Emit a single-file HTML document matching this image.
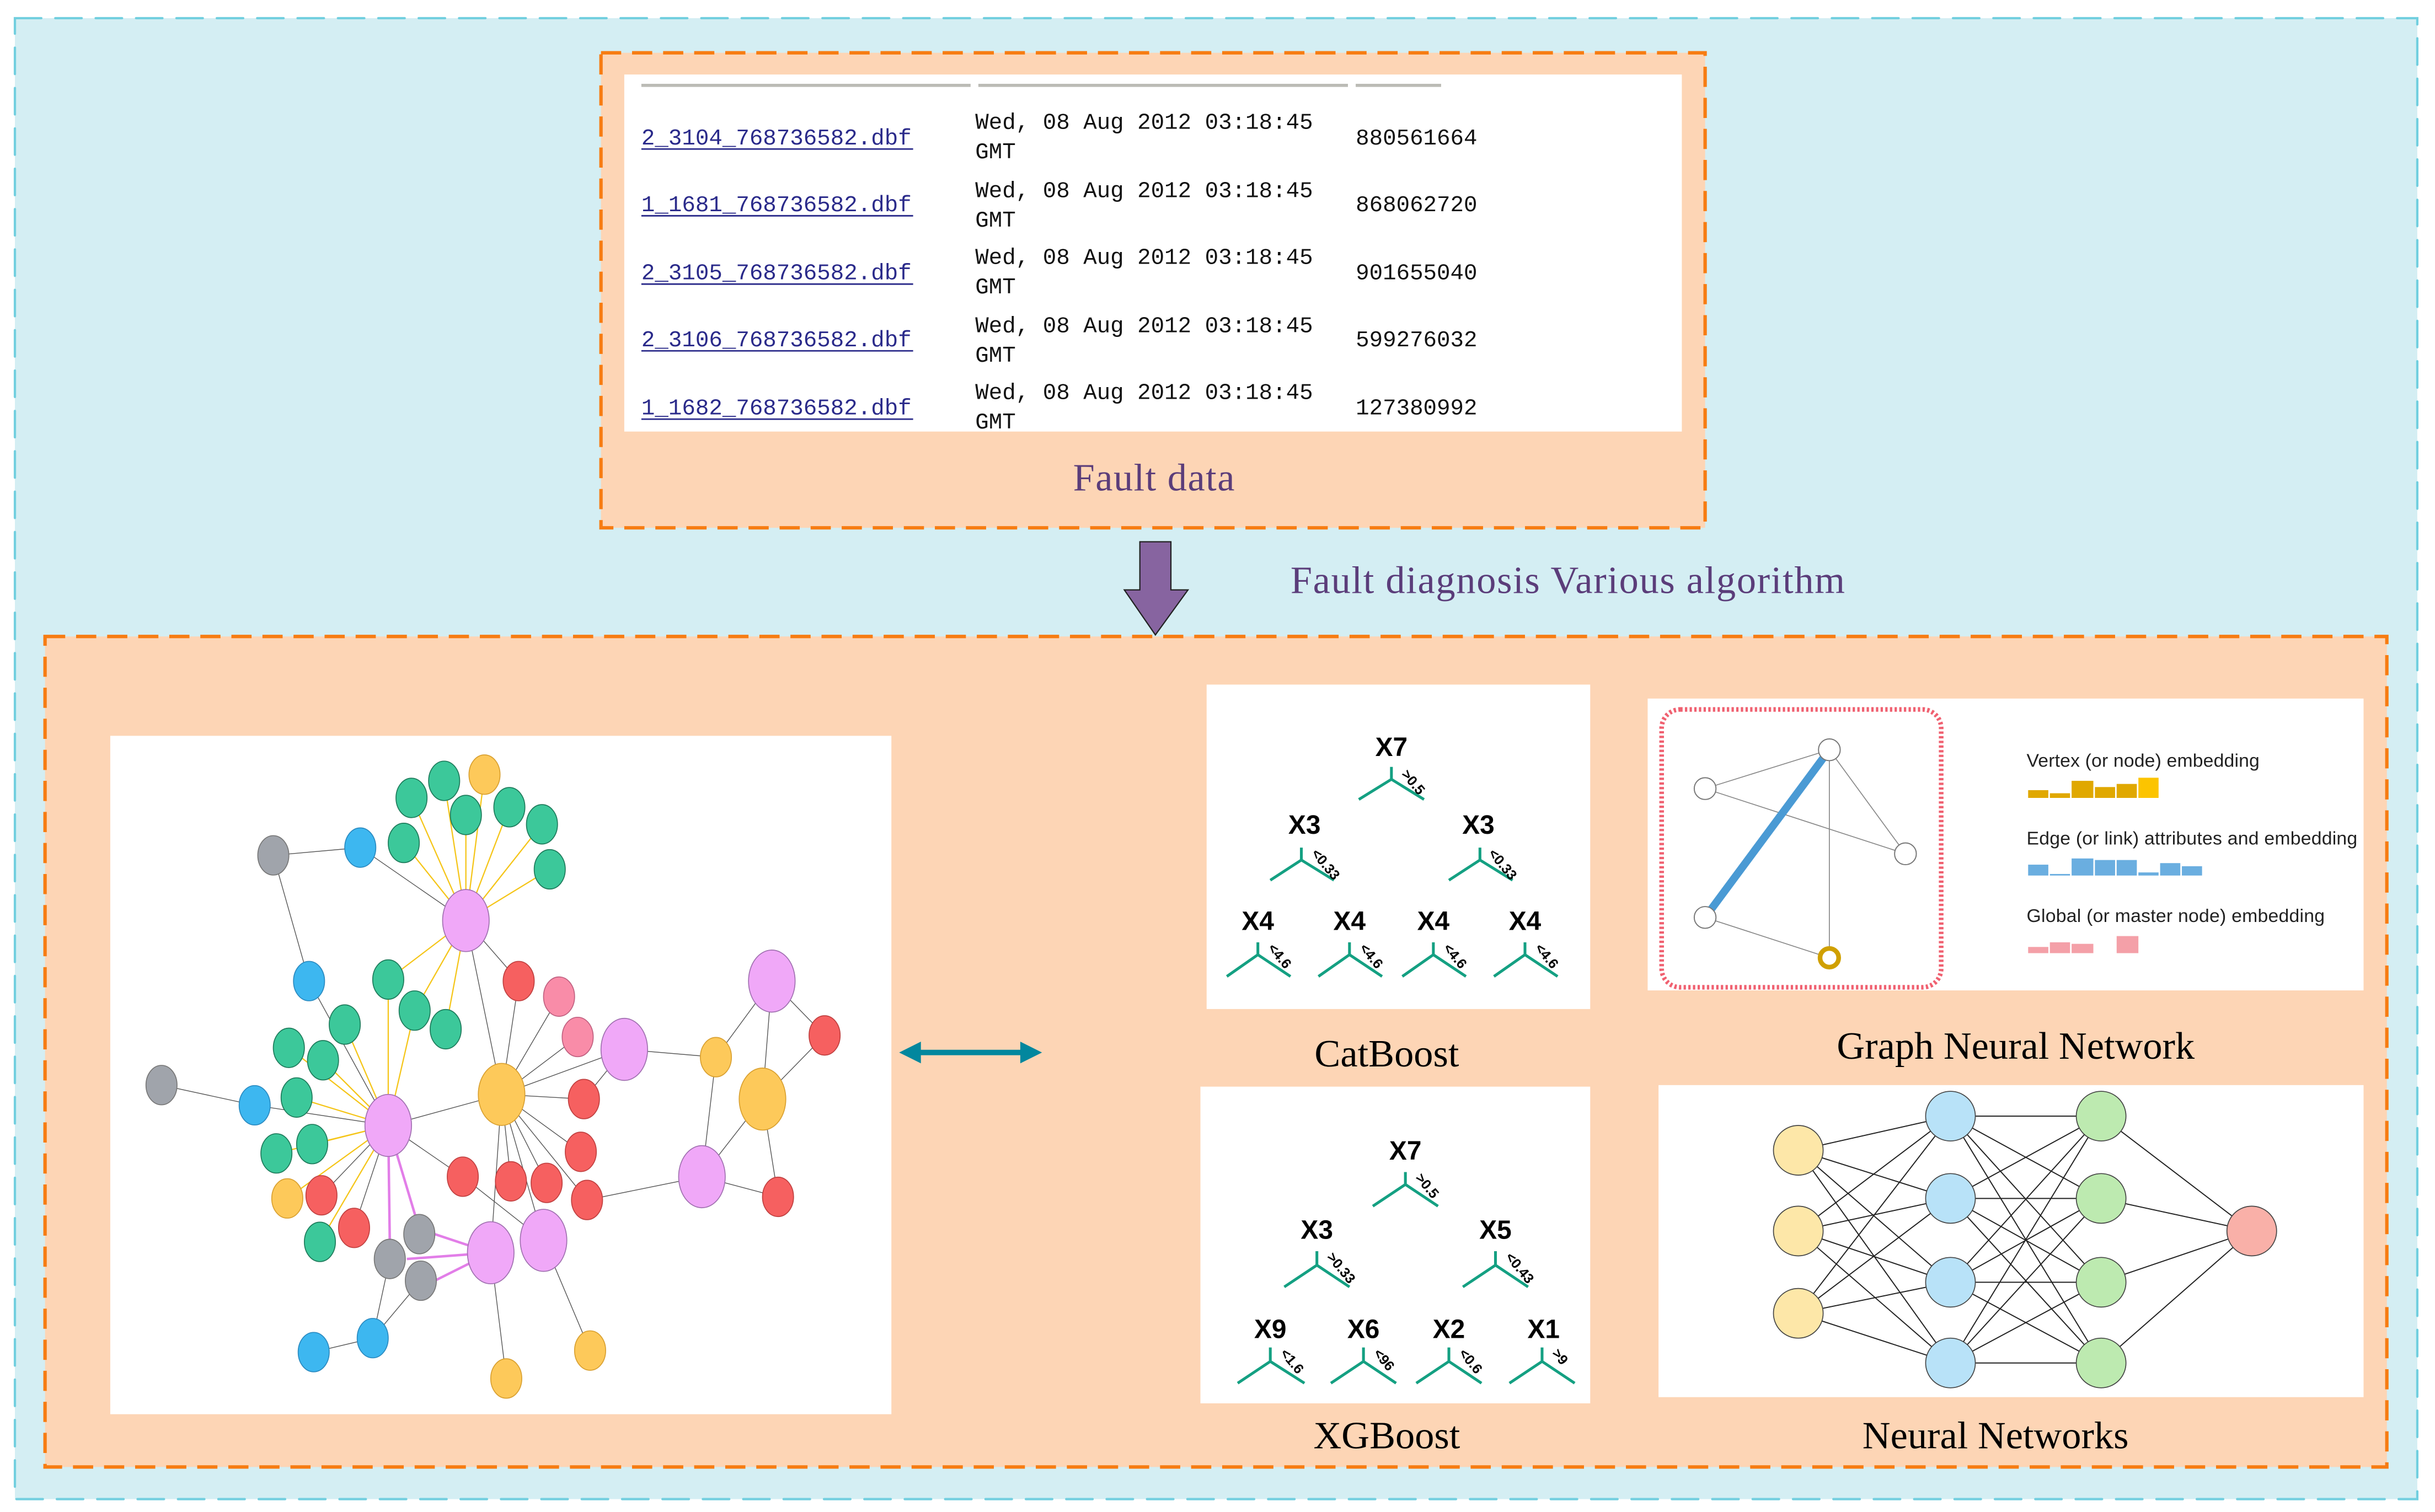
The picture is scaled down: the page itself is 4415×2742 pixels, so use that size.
<!DOCTYPE html>
<html><head><meta charset="utf-8"><style>
html,body{margin:0;padding:0;background:#fff;}
svg{display:block;}
</style></head><body>
<svg width="4415" height="2742" viewBox="0 0 1568 974" preserveAspectRatio="none" xmlns="http://www.w3.org/2000/svg">
<rect x="0" y="0" width="1568" height="974" fill="#fff"/>
<rect x="9.6" y="11.7" width="1547" height="954" fill="#d4eef3" stroke="#72cfdf" stroke-width="1.5" stroke-dasharray="17 9" stroke-linecap="round"/>
<!-- top box -->
<rect x="387" y="34" width="711" height="306" fill="#fdd5b5" stroke="#f77c12" stroke-width="2.2" stroke-dasharray="13 7"/>
<rect x="402" y="48" width="681" height="230" fill="#fff"/>
<g stroke="#bbbbb5" stroke-width="2"><line x1="413" y1="55" x2="625" y2="55"/><line x1="630" y1="55" x2="868" y2="55"/><line x1="873" y1="55" x2="928" y2="55"/></g>
<g font-family="Liberation Mono, monospace" font-size="14.5" fill="#111">
<g fill="#2a2a8a">
<text x="413" y="93">2_3104_768736582.dbf</text>
<text x="413" y="136">1_1681_768736582.dbf</text>
<text x="413" y="180">2_3105_768736582.dbf</text>
<text x="413" y="223">2_3106_768736582.dbf</text>
<text x="413" y="267">1_1682_768736582.dbf</text>
</g>
<g stroke="#2a2a8a" stroke-width="1"><line x1="413" y1="96" x2="588" y2="96"/><line x1="413" y1="139" x2="588" y2="139"/><line x1="413" y1="183" x2="588" y2="183"/><line x1="413" y1="226" x2="588" y2="226"/><line x1="413" y1="270" x2="588" y2="270"/></g>
<text x="628" y="83">Wed, 08 Aug 2012 03:18:45</text><text x="628" y="102">GMT</text>
<text x="628" y="127">Wed, 08 Aug 2012 03:18:45</text><text x="628" y="146">GMT</text>
<text x="628" y="170">Wed, 08 Aug 2012 03:18:45</text><text x="628" y="189">GMT</text>
<text x="628" y="214">Wed, 08 Aug 2012 03:18:45</text><text x="628" y="233">GMT</text>
<text x="628" y="257">Wed, 08 Aug 2012 03:18:45</text><text x="628" y="276">GMT</text>
<text x="873" y="93">880561664</text>
<text x="873" y="136">868062720</text>
<text x="873" y="180">901655040</text>
<text x="873" y="223">599276032</text>
<text x="873" y="267">127380992</text>
</g>
<text x="691" y="316" font-family="Liberation Serif, serif" font-size="25" fill="#5b3d7a" textLength="104">Fault data</text>
<!-- arrow -->
<polygon points="734,349 754,349 754,380 765,380 744,409 724,380 734,380" fill="#8764a0" stroke="#222" stroke-width="0.8"/>
<text x="831" y="382" font-family="Liberation Serif, serif" font-size="25" fill="#5b3d7a" textLength="357">Fault diagnosis Various algorithm</text>
<!-- bottom box -->
<rect x="29" y="410" width="1508" height="535" fill="#fdd5b5" stroke="#f77c12" stroke-width="2.2" stroke-dasharray="13 7"/>
<!-- graph panel -->
<rect x="71" y="474" width="503" height="437" fill="#fff"/>
<g stroke="#555" stroke-width="0.5" fill="none">
<line x1="300" y1="593" x2="232" y2="546"/><line x1="300" y1="593" x2="334" y2="632"/><line x1="300" y1="593" x2="323" y2="705"/>
<line x1="176" y1="551" x2="232" y2="546"/><line x1="176" y1="551" x2="199" y2="632"/><line x1="199" y1="632" x2="250" y2="725"/>
<line x1="104" y1="699" x2="164" y2="712"/><line x1="164" y1="712" x2="250" y2="725"/>
<line x1="250" y1="725" x2="323" y2="705"/><line x1="250" y1="725" x2="298" y2="758"/><line x1="250" y1="725" x2="207" y2="770"/><line x1="250" y1="725" x2="228" y2="791"/>
<line x1="323" y1="705" x2="360" y2="642"/><line x1="323" y1="705" x2="372" y2="668"/><line x1="323" y1="705" x2="402" y2="676"/><line x1="323" y1="705" x2="376" y2="708"/><line x1="323" y1="705" x2="374" y2="742"/><line x1="323" y1="705" x2="329" y2="761"/><line x1="323" y1="705" x2="352" y2="762"/><line x1="323" y1="705" x2="378" y2="773"/><line x1="323" y1="705" x2="316" y2="807"/><line x1="323" y1="705" x2="350" y2="799"/><line x1="323" y1="705" x2="334" y2="632"/>
<line x1="298" y1="758" x2="350" y2="799"/><line x1="378" y1="773" x2="452" y2="758"/><line x1="402" y1="676" x2="461" y2="681"/><line x1="402" y1="676" x2="376" y2="708"/>
<line x1="461" y1="681" x2="497" y2="632"/><line x1="461" y1="681" x2="452" y2="758"/><line x1="497" y1="632" x2="491" y2="708"/><line x1="497" y1="632" x2="531" y2="667"/><line x1="531" y1="667" x2="491" y2="708"/><line x1="491" y1="708" x2="452" y2="758"/><line x1="491" y1="708" x2="501" y2="771"/><line x1="452" y1="758" x2="501" y2="771"/>
<line x1="240" y1="862" x2="202" y2="871"/><line x1="240" y1="862" x2="251" y2="811"/><line x1="240" y1="862" x2="271" y2="825"/>
<line x1="316" y1="807" x2="326" y2="888"/><line x1="350" y1="799" x2="380" y2="870"/>
</g>
<g stroke="#f5c518" stroke-width="0.8">
<line x1="300" y1="593" x2="265" y2="514"/><line x1="300" y1="593" x2="286" y2="503"/><line x1="300" y1="593" x2="300" y2="525"/><line x1="300" y1="593" x2="328" y2="520"/><line x1="300" y1="593" x2="349" y2="531"/><line x1="300" y1="593" x2="354" y2="560"/><line x1="300" y1="593" x2="260" y2="543"/><line x1="300" y1="593" x2="312" y2="499"/>
<line x1="300" y1="593" x2="250" y2="631"/><line x1="300" y1="593" x2="267" y2="651"/><line x1="300" y1="593" x2="287" y2="663"/>
<line x1="250" y1="725" x2="222" y2="660"/><line x1="250" y1="725" x2="186" y2="675"/><line x1="250" y1="725" x2="208" y2="683"/><line x1="250" y1="725" x2="191" y2="707"/><line x1="250" y1="725" x2="201" y2="737"/><line x1="250" y1="725" x2="178" y2="743"/><line x1="250" y1="725" x2="206" y2="800"/><line x1="250" y1="725" x2="250" y2="631"/><line x1="250" y1="725" x2="267" y2="651"/><line x1="250" y1="725" x2="185" y2="772"/>
</g>
<g stroke="#e27ee8" stroke-width="1.6"><line x1="250" y1="725" x2="251" y2="800"/><line x1="250" y1="725" x2="268" y2="785"/><line x1="316" y1="807" x2="262" y2="811"/><line x1="316" y1="807" x2="280" y2="795"/><line x1="316" y1="807" x2="280" y2="825"/></g>
<g stroke-width="0.6">
<g fill="#3cc89a" stroke="#1d7a5a">
<ellipse cx="265" cy="514" rx="10" ry="12.7"/><ellipse cx="286" cy="503" rx="10" ry="12.7"/><ellipse cx="300" cy="525" rx="10" ry="12.7"/><ellipse cx="328" cy="520" rx="10" ry="12.7"/><ellipse cx="349" cy="531" rx="10" ry="12.7"/><ellipse cx="354" cy="560" rx="10" ry="12.7"/><ellipse cx="260" cy="543" rx="10" ry="12.7"/><ellipse cx="250" cy="631" rx="10" ry="12.7"/><ellipse cx="267" cy="651" rx="10" ry="12.7"/><ellipse cx="287" cy="663" rx="10" ry="12.7"/><ellipse cx="222" cy="660" rx="10" ry="12.7"/><ellipse cx="186" cy="675" rx="10" ry="12.7"/><ellipse cx="208" cy="683" rx="10" ry="12.7"/><ellipse cx="191" cy="707" rx="10" ry="12.7"/><ellipse cx="201" cy="737" rx="10" ry="12.7"/><ellipse cx="178" cy="743" rx="10" ry="12.7"/><ellipse cx="206" cy="800" rx="10" ry="12.7"/>
</g>
<g fill="#fdc95a" stroke="#d9a030">
<ellipse cx="312" cy="499" rx="10" ry="12.7"/><ellipse cx="185" cy="772" rx="10" ry="12.7"/><ellipse cx="380" cy="870" rx="10" ry="12.7"/><ellipse cx="326" cy="888" rx="10" ry="12.7"/><ellipse cx="461" cy="681" rx="10" ry="12.7"/>
<ellipse cx="323" cy="705" rx="15" ry="20"/><ellipse cx="491" cy="708" rx="15" ry="20"/>
</g>
<g fill="#3db7f0" stroke="#2a8ac0">
<ellipse cx="232" cy="546" rx="10" ry="12.7"/><ellipse cx="199" cy="632" rx="10" ry="12.7"/><ellipse cx="164" cy="712" rx="10" ry="12.7"/><ellipse cx="240" cy="862" rx="10" ry="12.7"/><ellipse cx="202" cy="871" rx="10" ry="12.7"/>
</g>
<g fill="#a0a4ab" stroke="#777">
<ellipse cx="176" cy="551" rx="10" ry="12.7"/><ellipse cx="104" cy="699" rx="10" ry="12.7"/><ellipse cx="270" cy="795" rx="10" ry="12.7"/><ellipse cx="251" cy="811" rx="10" ry="12.7"/><ellipse cx="271" cy="825" rx="10" ry="12.7"/>
</g>
<g fill="#f66060" stroke="#c04040">
<ellipse cx="334" cy="632" rx="10" ry="12.7"/><ellipse cx="376" cy="708" rx="10" ry="12.7"/><ellipse cx="374" cy="742" rx="10" ry="12.7"/><ellipse cx="298" cy="758" rx="10" ry="12.7"/><ellipse cx="329" cy="761" rx="10" ry="12.7"/><ellipse cx="352" cy="762" rx="10" ry="12.7"/><ellipse cx="378" cy="773" rx="10" ry="12.7"/><ellipse cx="207" cy="770" rx="10" ry="12.7"/><ellipse cx="228" cy="791" rx="10" ry="12.7"/><ellipse cx="531" cy="667" rx="10" ry="12.7"/><ellipse cx="501" cy="771" rx="10" ry="12.7"/>
</g>
<g fill="#f98ca8" stroke="#c06080"><ellipse cx="360" cy="642" rx="10" ry="12.7"/><ellipse cx="372" cy="668" rx="10" ry="12.7"/></g>
<g fill="#f0a8f8" stroke="#a070b0">
<ellipse cx="300" cy="593" rx="15" ry="20"/><ellipse cx="250" cy="725" rx="15" ry="20"/><ellipse cx="402" cy="676" rx="15" ry="20"/><ellipse cx="497" cy="632" rx="15" ry="20"/><ellipse cx="316" cy="807" rx="15" ry="20"/><ellipse cx="350" cy="799" rx="15" ry="20"/><ellipse cx="452" cy="758" rx="15" ry="20"/>
</g>
</g>
<!-- double arrow -->
<line x1="590" y1="678" x2="660" y2="678" stroke="#02879e" stroke-width="3.5"/>
<polygon points="579,678 593,671 593,685" fill="#02879e"/><polygon points="671,678 657,671 657,685" fill="#02879e"/>
<!-- CatBoost & XGBoost panels -->
<rect x="777" y="441" width="247" height="209" fill="#fff"/>
<rect x="773" y="700" width="251" height="204" fill="#fff"/>
<g font-family="Liberation Sans, sans-serif" font-weight="bold" font-size="17" fill="#000" text-anchor="middle">
<text x="896" y="487">X7</text><text x="840" y="537">X3</text><text x="952" y="537">X3</text>
<text x="810" y="599">X4</text><text x="869" y="599">X4</text><text x="923" y="599">X4</text><text x="982" y="599">X4</text>
<text x="905" y="747">X7</text><text x="848" y="798">X3</text><text x="963" y="798">X5</text>
<text x="818" y="862">X9</text><text x="878" y="862">X6</text><text x="933" y="862">X2</text><text x="994" y="862">X1</text>
</g>
<g stroke="#14a082" stroke-width="1.8" fill="none">
<path d="M896 494V502L875 515M896 502L917 515"/>
<path d="M838 546V554L818 567M838 554L859 567"/><path d="M953 546V554L933 567M953 554L974 567"/>
<path d="M810 607V615L790 629M810 615L831 629"/><path d="M869 607V615L849 629M869 615L890 629"/><path d="M923 607V615L903 629M923 615L944 629"/><path d="M982 607V615L962 629M982 615L1003 629"/>
<path d="M905 755V763L884 777M905 763L926 777"/>
<path d="M848 806V815L827 829M848 815L869 829"/><path d="M963 806V815L942 829M963 815L984 829"/>
<path d="M818 868V877L797 891M818 877L840 891"/><path d="M878 868V877L857 891M878 877L899 891"/><path d="M933 868V877L912 891M933 877L954 891"/><path d="M993 868V877L972 891M993 877L1014 891"/>
</g>
<g font-family="Liberation Sans, sans-serif" font-size="9" font-weight="bold" fill="#000">
<text transform="translate(902,499) rotate(50)">&gt;0.5</text>
<text transform="translate(844,550) rotate(50)">&lt;0.33</text><text transform="translate(958,550) rotate(50)">&lt;0.33</text>
<text transform="translate(816,611) rotate(50)">&lt;4.6</text><text transform="translate(875,611) rotate(50)">&lt;4.6</text><text transform="translate(929,611) rotate(50)">&lt;4.6</text><text transform="translate(988,611) rotate(50)">&lt;4.6</text>
<text transform="translate(911,759) rotate(50)">&gt;0.5</text>
<text transform="translate(854,810) rotate(50)">&gt;0.33</text><text transform="translate(969,810) rotate(50)">&lt;0.43</text>
<text transform="translate(824,872) rotate(50)">&lt;1.6</text><text transform="translate(884,872) rotate(50)">&lt;96</text><text transform="translate(939,872) rotate(50)">&lt;0.6</text><text transform="translate(999,872) rotate(50)">&gt;9</text>
</g>
<g font-family="Liberation Serif, serif" font-size="25" fill="#000" text-anchor="middle">
<text x="893" y="687">CatBoost</text><text x="1298" y="682">Graph Neural Network</text>
<text x="893" y="933">XGBoost</text><text x="1285" y="933">Neural Networks</text>
</g>
<!-- GNN -->
<rect x="1061" y="450" width="461" height="188" fill="#fff"/>
<rect x="1070" y="457" width="180" height="179" rx="12" fill="none" stroke="#f06070" stroke-width="3" stroke-dasharray="1.5 1.5"/>
<g stroke="#888" stroke-width="0.6"><line x1="1098" y1="508" x2="1178" y2="483"/><line x1="1098" y1="508" x2="1227" y2="550"/><line x1="1178" y1="483" x2="1227" y2="550"/><line x1="1178" y1="483" x2="1178" y2="617"/><line x1="1098" y1="591" x2="1178" y2="617"/></g>
<line x1="1098" y1="591" x2="1178" y2="483" stroke="#4a9ad4" stroke-width="5"/>
<g fill="#fff" stroke="#777" stroke-width="0.7"><circle cx="1178" cy="483" r="7"/><circle cx="1098" cy="508" r="7"/><circle cx="1227" cy="550" r="7"/><circle cx="1098" cy="591" r="7"/></g>
<circle cx="1178" cy="617" r="6" fill="#fff" stroke="#d0a000" stroke-width="3"/>
<g font-family="Liberation Sans, sans-serif" font-size="12" fill="#222">
<text x="1305" y="494" textLength="150">Vertex (or node) embedding</text>
<text x="1305" y="544" textLength="213">Edge (or link) attributes and embedding</text>
<text x="1305" y="594" textLength="192">Global (or master node) embedding</text>
</g>
<g fill="#e0a800"><rect x="1306" y="509" width="13" height="5"/><rect x="1320" y="511" width="13" height="3"/><rect x="1334" y="503" width="14" height="11"/><rect x="1349" y="507" width="13" height="7"/><rect x="1363" y="505" width="13" height="9"/><rect x="1377" y="501" width="13" height="13" fill="#fcc400"/></g>
<g fill="#6aaee0"><rect x="1306" y="557" width="13" height="7"/><rect x="1320" y="563" width="13" height="1"/><rect x="1334" y="553" width="14" height="11"/><rect x="1349" y="554" width="13" height="10"/><rect x="1363" y="554" width="13" height="10"/><rect x="1377" y="562" width="13" height="2"/><rect x="1391" y="556" width="13" height="8"/><rect x="1405" y="558" width="13" height="6"/></g>
<g fill="#f4a0a8"><rect x="1306" y="610" width="13" height="4"/><rect x="1320" y="607" width="13" height="7"/><rect x="1334" y="608" width="14" height="6"/><rect x="1363" y="603" width="14" height="11"/></g>
<!-- NN -->
<rect x="1068" y="699" width="454" height="201" fill="#fff"/>
<g stroke="#222" stroke-width="0.7">
<path d="M1158 741L1256 719M1158 741L1256 772M1158 741L1256 826M1158 741L1256 878M1158 793L1256 719M1158 793L1256 772M1158 793L1256 826M1158 793L1256 878M1158 846L1256 719M1158 846L1256 772M1158 846L1256 826M1158 846L1256 878"/>
<path d="M1256 719L1353 719M1256 719L1353 772M1256 719L1353 826M1256 719L1353 878M1256 772L1353 719M1256 772L1353 772M1256 772L1353 826M1256 772L1353 878M1256 826L1353 719M1256 826L1353 772M1256 826L1353 826M1256 826L1353 878M1256 878L1353 719M1256 878L1353 772M1256 878L1353 826M1256 878L1353 878"/>
<path d="M1353 719L1450 793M1353 772L1450 793M1353 826L1450 793M1353 878L1450 793"/>
</g>
<g fill="#fde7a8" stroke="#444" stroke-width="0.6"><circle cx="1158" cy="741" r="16"/><circle cx="1158" cy="793" r="16"/><circle cx="1158" cy="846" r="16"/></g>
<g fill="#b8e2f8" stroke="#444" stroke-width="0.6"><circle cx="1256" cy="719" r="16"/><circle cx="1256" cy="772" r="16"/><circle cx="1256" cy="826" r="16"/><circle cx="1256" cy="878" r="16"/></g>
<g fill="#bdeab0" stroke="#444" stroke-width="0.6"><circle cx="1353" cy="719" r="16"/><circle cx="1353" cy="772" r="16"/><circle cx="1353" cy="826" r="16"/><circle cx="1353" cy="878" r="16"/></g>
<circle cx="1450" cy="793" r="16" fill="#f9b0a8" stroke="#444" stroke-width="0.6"/>
</svg>
</body></html>
